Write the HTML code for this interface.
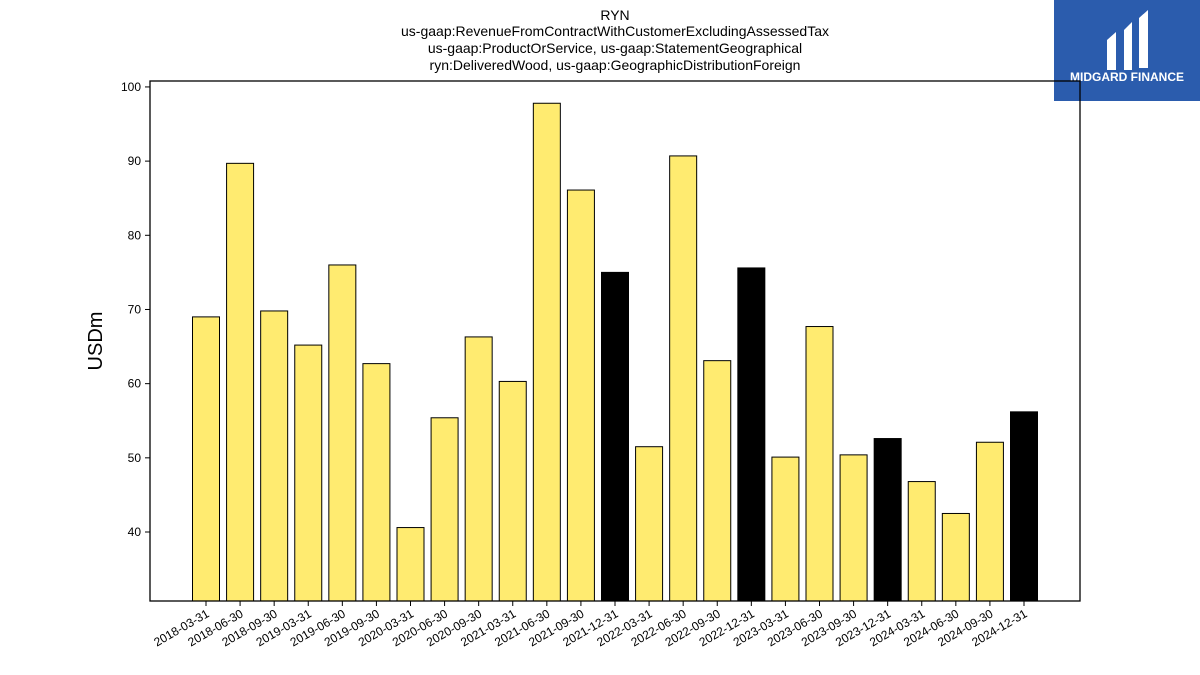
<!DOCTYPE html>
<html><head><meta charset="utf-8"><style>
body{margin:0;background:#fff;}
svg{display:block;font-family:"Liberation Sans","DejaVu Sans",sans-serif;}
</style></head><body>
<svg id="chart" width="1200" height="675" xmlns="http://www.w3.org/2000/svg">
<g font-size="14" text-anchor="middle" fill="#000">
<text x="615" y="20">RYN</text>
<text x="615" y="36">us-gaap:RevenueFromContractWithCustomerExcludingAssessedTax</text>
<text x="615" y="53">us-gaap:ProductOrService, us-gaap:StatementGeographical</text>
<text x="615" y="70">ryn:DeliveredWood, us-gaap:GeographicDistributionForeign</text>
</g>
<g>
<rect x="1054" y="0" width="146" height="101" fill="#2b5cad"/>
<path d="M1107 40 L1116 32 L1116 70 L1107 70 Z M1124 30 L1132 22 L1132 70 L1124 70 Z M1139 18 L1148 10 L1148 68 L1139 68 Z" fill="#fff"/>
<text x="1127" y="81" font-size="12" font-weight="bold" fill="#fff" text-anchor="middle">MIDGARD FINANCE</text>
</g>
<g id="plot"></g>
<text transform="translate(102,341) rotate(-90)" font-size="20" text-anchor="middle">USDm</text>
</svg>
<script>
const categories=["2018-03-31","2018-06-30","2018-09-30","2019-03-31","2019-06-30","2019-09-30","2020-03-31","2020-06-30","2020-09-30","2021-03-31","2021-06-30","2021-09-30","2021-12-31","2022-03-31","2022-06-30","2022-09-30","2022-12-31","2023-03-31","2023-06-30","2023-09-30","2023-12-31","2024-03-31","2024-06-30","2024-09-30","2024-12-31"];
const values=[69.0,89.7,69.8,65.2,76.0,62.7,40.6,55.4,66.3,60.3,97.8,86.1,75.0,51.5,90.7,63.1,75.6,50.1,67.7,50.4,52.6,46.8,42.5,52.1,56.2];
const highlighted=[0,0,0,0,0,0,0,0,0,0,0,0,1,0,0,0,1,0,0,0,1,0,0,0,1];
const yTicks=[40,50,60,70,80,90,100];
const L=150,R=1080,T=81,B=601,ymin=30.7,ymax=100.8;
const NS="http://www.w3.org/2000/svg";
const g=document.getElementById('plot');
const y=v=>B-(v-ymin)/(ymax-ymin)*(B-T);
const step=(1024-206)/24;
const x=i=>206+i*step;
const bw=27;
function mk(t,a,p){const e=document.createElementNS(NS,t);for(const k in a)e.setAttribute(k,a[k]);(p||g).appendChild(e);return e;}
categories.forEach((c,i)=>{
 const b=mk('rect',{x:x(i)-bw/2,y:y(values[i]),width:bw,height:B-y(values[i]),fill:highlighted[i]?'#000':'#ffeb70',stroke:'#000','stroke-width':1});
 
 
 const tk=mk('line',{x1:x(i),x2:x(i),y1:B,y2:B+5,stroke:'#000'});
 
 
 const t=mk('text',{x:0,y:0,'font-size':12,'text-anchor':'end',transform:`translate(${x(i)+4},${B+15}) rotate(-30)`});
 t.textContent=c;
 
 
});
yTicks.forEach(v=>{
 const tk=mk('line',{x1:L-5,x2:L,y1:y(v),y2:y(v),stroke:'#000'});
 
 
 const t=mk('text',{x:L-9,y:y(v)+4,'font-size':12,'text-anchor':'end'});
 t.textContent=v;
 
 
});
const f=mk('rect',{x:L,y:T,width:R-L,height:B-T,fill:'none',stroke:'#000','stroke-width':1.3});


</script>
</body></html>
